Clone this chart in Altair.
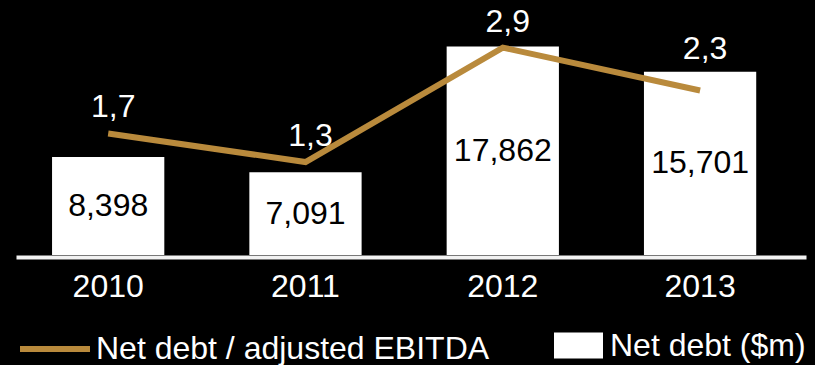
import altair as alt
import pandas as pd

# Net debt (bars, $m) and net debt / adjusted EBITDA (line), 2010-2013
years = ["2010", "2011", "2012", "2013"]
net_debt = [8398, 7091, 17862, 15701]
leverage = [1.7, 1.3, 2.9, 2.3]

BAR_SERIES = "Net debt ($m)"
LINE_SERIES = "Net debt / adjusted EBITDA"

GOLD = "#B98A3C"
FONT = "Liberation Sans"
FS = 32

df = pd.DataFrame({
    "year": years,
    "net_debt": net_debt,
    "leverage": leverage,
    "bar_series": BAR_SERIES,
    "line_series": LINE_SERIES,
})

base = alt.Chart(df).transform_calculate(
    half=alt.datum.net_debt / 2,
    debt_text="format(datum.net_debt, ',d')",
    lev_text="replace(format(datum.leverage, '.1f'), '.', ',')",
)

x_enc = alt.X(
    "year:N",
    sort=years,
    scale=alt.Scale(paddingInner=0.431, paddingOuter=0.2175, align=0.42),
    axis=alt.Axis(
        title=None,
        ticks=False,
        labelAngle=0,
        labelFont=FONT,
        labelFontSize=FS,
        labelColor="white",
        labelPadding=14,
        domainColor="#f2f2f2",
        domainWidth=4,
        offset=2,
        grid=False,
    ),
)

debt_scale = alt.Scale(domain=[0, 21850], nice=False, zero=True)
lev_scale = alt.Scale(domain=[0, 3.566], nice=False, zero=True)

bars = base.mark_bar(stroke=None).encode(
    x=x_enc,
    y=alt.Y("net_debt:Q", scale=debt_scale, axis=None),
    fill=alt.Fill(
        "bar_series:N",
        scale=alt.Scale(domain=[BAR_SERIES], range=["white"]),
        legend=alt.Legend(
            orient="none",
            legendX=538,
            legendY=321,
            title=None,
            symbolType="M-1,-0.53L1,-0.53L1,0.53L-1,0.53Z",
            symbolSize=2401,
            symbolStrokeWidth=0,
            labelFont=FONT,
            labelFontSize=FS,
            labelColor="white",
            labelOffset=7,
            labelLimit=400,
        ),
    ),
)

bar_labels = base.mark_text(
    font=FONT, fontSize=FS, color="black", baseline="middle", align="center"
).encode(
    x=x_enc,
    y=alt.Y("half:Q", scale=debt_scale, axis=None),
    text="debt_text:N",
)

line = base.mark_line(strokeWidth=6).encode(
    x=x_enc,
    y=alt.Y("leverage:Q", scale=lev_scale, axis=None),
    stroke=alt.Stroke(
        "line_series:N",
        scale=alt.Scale(domain=[LINE_SERIES], range=[GOLD]),
        legend=alt.Legend(
            orient="none",
            legendX=1,
            legendY=311,
            title=None,
            symbolType="M-1,0L1,0",
            symbolSize=4900,
            symbolStrokeWidth=6,
            labelFont=FONT,
            labelFontSize=FS,
            labelColor="white",
            labelOffset=3,
            labelLimit=500,
        ),
    ),
)

lev_text_props = dict(font=FONT, fontSize=FS, color="white", baseline="alphabetic", align="center", dx=5)

lev_labels = base.mark_text(dy=-16, **lev_text_props).encode(
    x=x_enc,
    y=alt.Y("leverage:Q", scale=lev_scale, axis=None),
    text="lev_text:N",
).transform_filter(alt.datum.year != "2013")

lev_labels_last = base.mark_text(dy=-32, **lev_text_props).encode(
    x=x_enc,
    y=alt.Y("leverage:Q", scale=lev_scale, axis=None),
    text="lev_text:N",
).transform_filter(alt.datum.year == "2013")

debt_layer = alt.layer(bars, bar_labels)
lev_layer = alt.layer(line, lev_labels, lev_labels_last)

chart = (
    alt.layer(debt_layer, lev_layer)
    .resolve_scale(y="independent")
    .properties(
        width=790,
        height=255,
        padding={"left": 16, "right": 9, "top": 0, "bottom": 110},
        autosize=alt.AutoSizeParams(type="none"),
        background="black",
    )
    .configure_view(stroke=None)
)

chart.save("out.html", embed_options={"renderer": "svg", "actions": False})
